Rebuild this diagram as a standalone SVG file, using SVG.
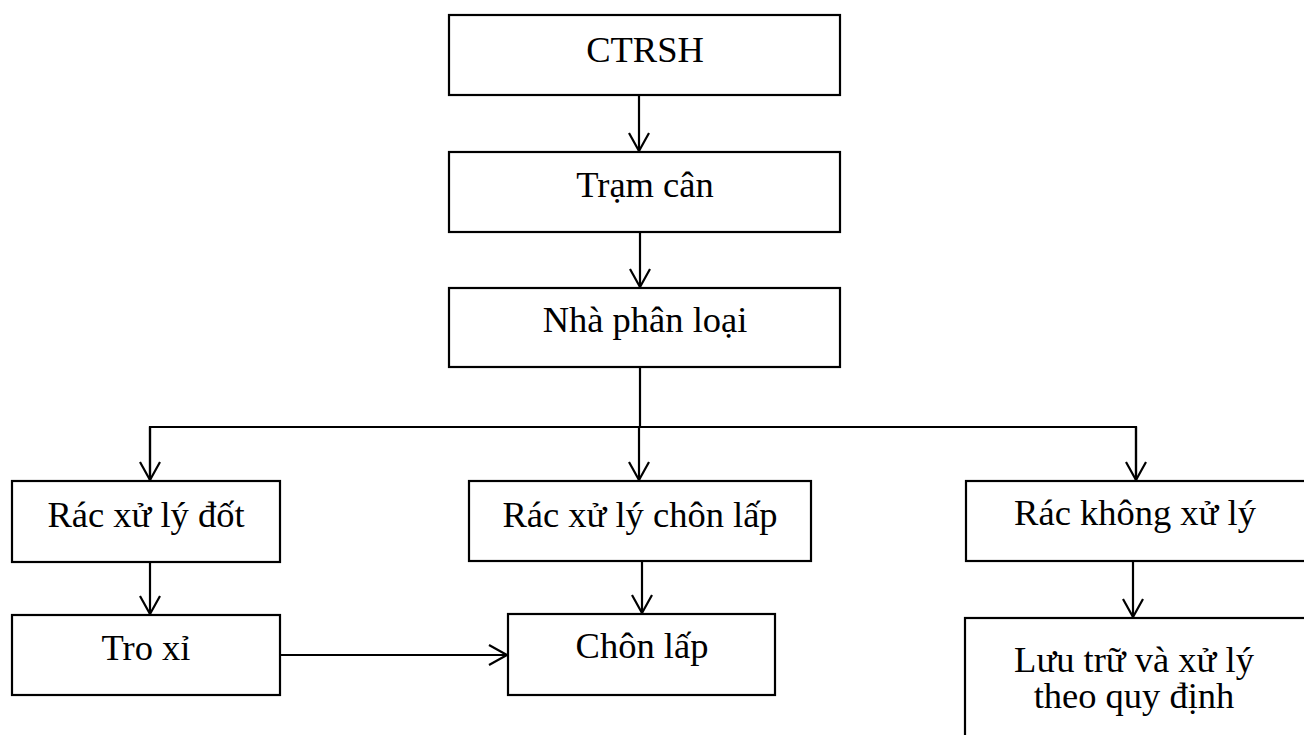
<svg xmlns="http://www.w3.org/2000/svg" width="1304" height="735" viewBox="0 0 1304 735">
<style>
.box{fill:#fff;stroke:#000;stroke-width:2.2}
.lbl{font-family:"Liberation Serif","Times New Roman",serif;font-size:36.5px;fill:#000;text-anchor:middle}
.con{fill:none;stroke:#000;stroke-width:2.2}
</style>
<defs>
<marker id="arr" markerUnits="userSpaceOnUse" markerWidth="24" markerHeight="26" viewBox="-22 -13 24 26" refX="0" refY="0" orient="auto" overflow="visible">
<path d="M-18,-10 L0,0 L-18,10" fill="none" stroke="#000" stroke-width="2.2"/>
</marker>
</defs>
<rect width="1304" height="735" fill="#fff"/>
<g id="connectors">
<line class="con" x1="639" y1="95" x2="639" y2="151" marker-end="url(#arr)"/>
<line class="con" x1="640" y1="232" x2="640" y2="287" marker-end="url(#arr)"/>
<polyline class="con" points="640,367 640,427"/>
<polyline class="con" points="150,480 150,427 1136,427 1136,480" marker-start="none"/>
<line class="con" x1="150" y1="427" x2="150" y2="480" marker-end="url(#arr)"/>
<line class="con" x1="639" y1="427" x2="639" y2="480" marker-end="url(#arr)"/>
<line class="con" x1="1136" y1="427" x2="1136" y2="480" marker-end="url(#arr)"/>
<line class="con" x1="150" y1="562" x2="150" y2="614" marker-end="url(#arr)"/>
<line class="con" x1="642" y1="561" x2="642" y2="613" marker-end="url(#arr)"/>
<line class="con" x1="1133" y1="561" x2="1133" y2="617" marker-end="url(#arr)"/>
<line class="con" x1="280" y1="655" x2="507" y2="655" marker-end="url(#arr)"/>
</g>
<g id="n-ctrsh">
<rect class="box" x="449" y="15" width="391" height="80"/>
<text class="lbl" x="645" y="62">CTRSH</text>
</g>
<g id="n-tramcan">
<rect class="box" x="449" y="152" width="391" height="80"/>
<text class="lbl" x="645" y="197">Trạm cân</text>
</g>
<g id="n-phanloai">
<rect class="box" x="449" y="288" width="391" height="79"/>
<text class="lbl" x="645" y="332">Nhà phân loại</text>
</g>
<g id="n-dot">
<rect class="box" x="12" y="481" width="268" height="81"/>
<text class="lbl" x="146" y="527">Rác xử lý đốt</text>
</g>
<g id="n-chonlap1">
<rect class="box" x="469" y="481" width="342" height="80"/>
<text class="lbl" x="640" y="527">Rác xử lý chôn lấp</text>
</g>
<g id="n-khong">
<rect class="box" x="966" y="481" width="345" height="80"/>
<text class="lbl" x="1135" y="525">Rác không xử lý</text>
</g>
<g id="n-troxi">
<rect class="box" x="12" y="615" width="268" height="80"/>
<text class="lbl" x="146" y="660">Tro xỉ</text>
</g>
<g id="n-chonlap2">
<rect class="box" x="508" y="614" width="267" height="81"/>
<text class="lbl" x="642" y="658">Chôn lấp</text>
</g>
<g id="n-luutru">
<rect class="box" x="965" y="618" width="346" height="130"/>
<text class="lbl" x="1134" y="672">Lưu trữ và xử lý</text>
<text class="lbl" x="1134" y="708">theo quy định</text>
</g>
</svg>
